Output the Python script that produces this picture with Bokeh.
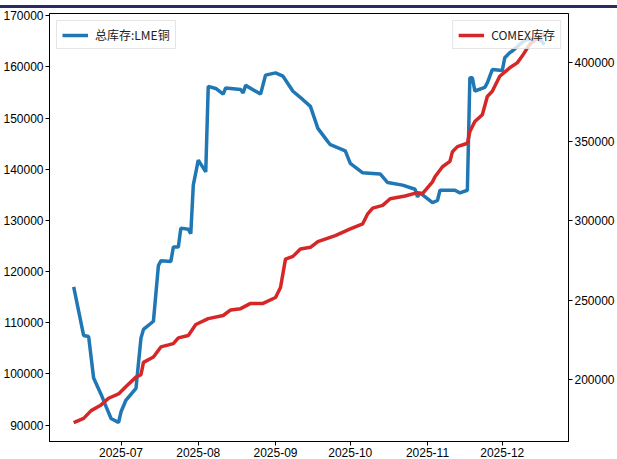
import pandas as pd
from bokeh.plotting import figure
from bokeh.models import (Range1d, LinearAxis, Legend, LegendItem, DatetimeTickFormatter,
                          MonthsTicker, SingleIntervalTicker, NumeralTickFormatter)
from bokeh.embed import file_html
from bokeh.resources import INLINE

lme_dates = ["2025-06-12", "2025-06-16", "2025-06-18", "2025-06-20", "2025-06-23", "2025-06-25",
             "2025-06-27", "2025-06-30", "2025-07-01", "2025-07-03", "2025-07-07", "2025-07-09",
             "2025-07-10", "2025-07-14", "2025-07-16", "2025-07-17", "2025-07-21", "2025-07-22",
             "2025-07-24", "2025-07-25", "2025-07-28", "2025-07-29", "2025-07-30", "2025-08-01",
             "2025-08-04", "2025-08-05", "2025-08-08", "2025-08-11", "2025-08-12", "2025-08-18",
             "2025-08-19", "2025-08-20", "2025-08-26", "2025-08-28", "2025-09-01", "2025-09-04",
             "2025-09-08", "2025-09-12", "2025-09-15", "2025-09-18", "2025-09-22", "2025-09-23",
             "2025-09-29", "2025-10-01", "2025-10-06", "2025-10-10", "2025-10-13", "2025-10-16",
             "2025-10-22", "2025-10-27", "2025-10-28", "2025-10-29", "2025-11-03", "2025-11-05",
             "2025-11-06", "2025-11-12", "2025-11-14", "2025-11-17", "2025-11-18", "2025-11-19",
             "2025-11-20", "2025-11-24", "2025-11-25", "2025-11-27", "2025-12-01", "2025-12-02",
             "2025-12-04", "2025-12-05", "2025-12-08", "2025-12-10", "2025-12-12", "2025-12-16",
             "2025-12-18"]
lme_values = [117000, 107500, 107300, 99200, 96000, 93600,
              91300, 90500, 92600, 94900, 97200, 107000,
              108700, 110300, 121200, 122100, 122000, 124800,
              124800, 128500, 128300, 127400, 136900, 141800,
              139500, 156200, 155800, 154700, 155900, 155600,
              154900, 156400, 154700, 158400, 158850, 158200,
              155250, 153600, 152300, 148000, 145400, 144800,
              143600, 141150, 139300, 139200, 139100, 137400,
              136900, 136100, 134600, 135400, 133500, 133900,
              135900, 135900, 135400, 135900, 157900, 157900,
              155300, 156000, 156900, 159500, 159300, 161800,
              162800, 163100, 164400, 165200, 165400, 165400,
              164400]

comex_dates = ["2025-06-12", "2025-06-16", "2025-06-19", "2025-06-23", "2025-06-26", "2025-06-30",
               "2025-07-03", "2025-07-07", "2025-07-09", "2025-07-10", "2025-07-14", "2025-07-17",
               "2025-07-22", "2025-07-24", "2025-07-28", "2025-07-31", "2025-08-05", "2025-08-11",
               "2025-08-14", "2025-08-18", "2025-08-22", "2025-08-27", "2025-09-01", "2025-09-03",
               "2025-09-05", "2025-09-08", "2025-09-11", "2025-09-15", "2025-09-18", "2025-09-25",
               "2025-10-01", "2025-10-06", "2025-10-08", "2025-10-10", "2025-10-14", "2025-10-17",
               "2025-10-23", "2025-10-28", "2025-10-30", "2025-11-03", "2025-11-04", "2025-11-07",
               "2025-11-10", "2025-11-11", "2025-11-13", "2025-11-17", "2025-11-18", "2025-11-20",
               "2025-11-23", "2025-11-25", "2025-11-27", "2025-11-30", "2025-12-04", "2025-12-07",
               "2025-12-09", "2025-12-12", "2025-12-14", "2025-12-18"]
comex_values = [173000, 175700, 180600, 184200, 188400, 191100,
                195800, 201700, 203200, 211000, 214400, 220700,
                222800, 226400, 227900, 234800, 238500, 240500,
                244000, 244800, 248100, 248100, 251800, 258100,
                276000, 277700, 282400, 283400, 287000, 290800,
                295000, 298200, 304500, 308100, 309800, 314000,
                315700, 317800, 317200, 324600, 327800, 334100,
                337500, 343600, 346800, 348900, 356300, 362600,
                366900, 378400, 381600, 391100, 396400, 399500,
                403800, 411200, 413700, 418000]

lme_label = "总库存:LME铜"
comex_label = "COMEX库存"

TICK_FONT = "Liberation Sans"
CJK_FONT = "Noto Sans CJK SC"

p = figure(width=617, height=459, x_axis_type="datetime", output_backend="svg",
           toolbar_location=None,
           x_range=Range1d(pd.Timestamp("2025-06-02 07:00"), pd.Timestamp("2025-12-27 14:00")),
           y_range=Range1d(86794, 170450),
           min_border_top=13, min_border_left=0, min_border_right=0, min_border_bottom=0)
p.extra_y_ranges = {"comex": Range1d(161165, 430600)}

r1 = p.line(pd.to_datetime(lme_dates), lme_values, color="#1f77b4", line_width=3.5)
r2 = p.line(pd.to_datetime(comex_dates), comex_values, color="#d62728", line_width=3.5,
            y_range_name="comex")

p.xgrid.visible = False
p.ygrid.visible = False
p.outline_line_color = "black"
p.outline_line_width = 1
p.outline_line_alpha = 1
p.background_fill_color = "white"
p.border_fill_color = "white"
p.border_fill_alpha = 0
p.styles = {"background": "linear-gradient(to bottom, #ffffff 0px, #ffffff 5px, "
                          "#2b2b62 5px, #2b2b62 7.5px, #ffffff 7.5px, #ffffff 100%)"}

p.xaxis.ticker = MonthsTicker(months=list(range(1, 13)))
p.xaxis.formatter = DatetimeTickFormatter(months="%Y-%m", days="%Y-%m-%d")
p.yaxis.ticker = SingleIntervalTicker(interval=10000)
p.yaxis.formatter = NumeralTickFormatter(format="0")

right_axis = LinearAxis(y_range_name="comex", ticker=SingleIntervalTicker(interval=50000),
                        formatter=NumeralTickFormatter(format="0"))
p.add_layout(right_axis, "right")

for ax in [p.xaxis[0], p.yaxis[0], right_axis]:
    ax.major_tick_out = 4
    ax.major_tick_in = 0
    ax.minor_tick_line_color = None
    ax.axis_line_color = "black"
    ax.major_tick_line_color = "black"
    ax.major_label_text_font = TICK_FONT
    ax.major_label_text_font_size = "12px"
    ax.major_label_text_color = "black"
    ax.major_label_standoff = 2

leg1 = Legend(items=[LegendItem(label=lme_label, renderers=[r1])], location="top_left")
leg2 = Legend(items=[LegendItem(label=comex_label, renderers=[r2])], location="top_right")
for lg in (leg1, leg2):
    lg.label_text_font = CJK_FONT
    lg.label_text_font_size = "12px"
    lg.label_text_color = "#222222"
    lg.glyph_width = 26
    lg.glyph_height = 14
    lg.label_standoff = 7
    lg.padding = 5
    lg.margin = 7
    lg.border_line_color = "#cccccc"
    lg.border_line_width = 1
    lg.background_fill_color = "white"
    lg.background_fill_alpha = 0.8
    p.add_layout(lg, "center")

open("out.html", "w").write(file_html(p, INLINE))
